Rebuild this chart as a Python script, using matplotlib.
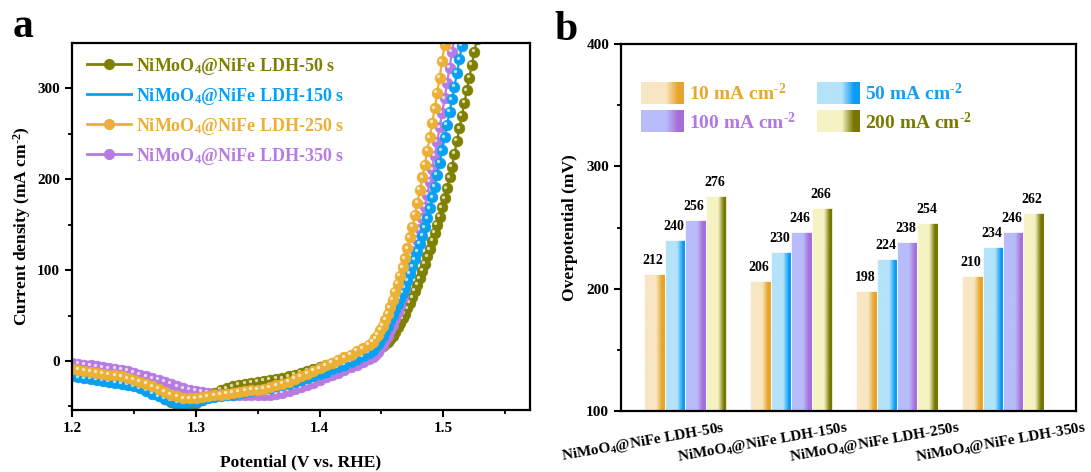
import numpy as np
import matplotlib
matplotlib.use('Agg')
import matplotlib.pyplot as plt
from matplotlib.lines import Line2D
from matplotlib.colors import to_rgb
import matplotlib.transforms as mtransforms

plt.rcParams['font.family'] = 'Liberation Serif'
plt.rcParams['font.weight'] = 'bold'
plt.rcParams['axes.labelweight'] = 'bold'
plt.rcParams['mathtext.fontset'] = 'custom'
plt.rcParams['mathtext.rm'] = 'Liberation Serif:bold'
plt.rcParams['mathtext.it'] = 'Liberation Serif:bold'
plt.rcParams['mathtext.bf'] = 'Liberation Serif:bold'

# ---------------- data: panel a (LSV curves) ----------------
# potentials: 1.200-1.440 V every 5 mV, then from 1.443 V every 2 mV
x_low = 1.200 + 0.005 * np.arange(49)
hi_start, hi_step = 1.443, 0.002

y50_low = [-13, -14, -15, -16, -17, -18, -19, -20, -21, -23,
           -25, -27, -30, -34, -38, -42, -45, -48, -49, -48,
           -46, -43, -39, -35, -32, -30, -28, -26, -25, -24,
           -23, -22, -21, -20, -19, -17, -15, -13, -11, -9,
           -7, -5, -3, -1, 1, 3, 5, 6, 8]
y50_high = [9, 11, 13, 15, 17, 19, 21, 24, 28, 32, 37, 42, 47, 52, 58, 64,
            70, 77, 84, 91, 99, 107, 115, 123, 132, 141, 150, 159, 169, 179,
            190, 202, 214, 228, 242, 256, 270, 284, 298, 312, 326, 340, 354, 368]

y150_low = [-17, -18, -19, -20, -21, -22, -23, -24, -25, -26,
            -28, -30, -33, -36, -39, -42, -44, -46, -46, -46,
            -45, -43, -41, -40, -39, -38, -37, -35, -34, -33,
            -32, -31, -30, -28, -27, -25, -23, -21, -19, -17,
            -14, -12, -9, -7, -4, -1, 2, 5, 9]
y150_high = [12, 15, 19, 23, 28, 33, 39, 45, 51, 57, 63, 69, 75, 81, 88, 96,
             104, 112, 120, 129, 138, 147, 157, 168, 180, 192, 205, 218, 232,
             246, 260, 274, 288, 302, 317, 332, 347, 362]

y250_low = [-9, -10, -11, -12, -13, -14, -15, -16, -17, -19,
            -21, -23, -25, -28, -31, -34, -37, -39, -41, -41,
            -41, -40, -39, -38, -37, -36, -35, -34, -33, -32,
            -32, -31, -29, -27, -25, -23, -20, -17, -14, -11,
            -8, -5, -2, 1, 4, 7, 11, 14, 18]
y250_high = [21, 25, 29, 34, 39, 45, 52, 59, 67, 76, 85, 94, 103, 113, 124,
             136, 148, 161, 174, 188, 202, 216, 231, 246, 262, 278, 295, 312,
             330, 348, 366]

y350_low = [-2, -3, -4, -5, -6, -7, -8, -9, -10, -11,
            -13, -15, -17, -19, -21, -23, -25, -28, -30, -32,
            -33, -34, -35, -36, -36, -37, -37, -37, -38, -38,
            -38, -37, -37, -36, -35, -33, -31, -29, -26, -24,
            -21, -18, -16, -13, -10, -7, -4, -1, 2]
y350_high = [4, 7, 10, 14, 18, 23, 28, 34, 40, 47, 54, 62, 70, 79, 89, 99,
             110, 121, 133, 145, 157, 170, 183, 197, 211, 226, 241, 257, 273,
             289, 306, 323, 340, 357]

lsv_labels = ['NiMoO$_{4}$@NiFe LDH-50 s', 'NiMoO$_{4}$@NiFe LDH-150 s',
              'NiMoO$_{4}$@NiFe LDH-250 s', 'NiMoO$_{4}$@NiFe LDH-350 s']
lsv_colors = ['#808000', '#0AA0F2', '#EBB034', '#B77BE2']

# ---------------- data: panel b (overpotentials) ----------------
samples = ['NiMoO$_{4}$@NiFe LDH-50s', 'NiMoO$_{4}$@NiFe LDH-150s',
           'NiMoO$_{4}$@NiFe LDH-250s', 'NiMoO$_{4}$@NiFe LDH-350s']
eta_10 = [212, 206, 198, 210]
eta_50 = [240, 230, 224, 234]
eta_100 = [256, 246, 238, 246]
eta_200 = [276, 266, 254, 262]
density_labels = [r'10 mA cm$^{\text{-}2}$', r'50 mA cm$^{\text{-}2}$',
                  r'100 mA cm$^{\text{-}2}$', r'200 mA cm$^{\text{-}2}$']
bar_light = ['#F8E6C4', '#B4E3FA', '#B8BDFA', '#F6F3C3']
bar_dark = ['#E6A52A', '#0A9CF5', '#A86ED9', '#767600']
text_cols = ['#E8A82E', '#12A0F2', '#B078E0', '#7A7A00']

# ---------------- figure ----------------
W, H = 1091, 472
fig = plt.figure(figsize=(W / 100, H / 100), dpi=100)
ax1 = fig.add_axes([72 / W, 1 - 410 / H, 458 / W, 367 / H])
ax2 = fig.add_axes([621 / W, 1 - 411 / H, 455 / W, 367 / H])

# ---- panel a ----
series = [(y50_low, y50_high), (y150_low, y150_high),
          (y250_low, y250_high), (y350_low, y350_high)]
zorders = [2, 6, 8, 4]
for (ylo, yhi), col, z in zip(series, lsv_colors, zorders):
    x = np.concatenate([x_low, hi_start + hi_step * np.arange(len(yhi))])
    y = np.concatenate([ylo, yhi])
    ax1.plot(x, y, '-', color=col, lw=1.6, marker='o', ms=7.8,
             mfc=col, mec=col, mew=0.4, zorder=z)
    hl = tuple(np.array(to_rgb(col)) * 0.3 + 0.7)
    off = mtransforms.offset_copy(ax1.transData, fig=fig, x=-1.2, y=1.2,
                                  units='points')
    ax1.plot(x, y, ls='none', marker='o', ms=2.4, mfc=hl, mec='none',
             transform=off, zorder=z + 1)

ax1.set_xlim(1.2, 1.57)
ax1.set_ylim(-54, 350)
ax1.set_xticks([1.2, 1.3, 1.4, 1.5])
ax1.set_xticks([1.25, 1.35, 1.45, 1.55], minor=True)
ax1.set_yticks([0, 100, 200, 300])
ax1.set_yticks([-50, 50, 150, 250], minor=True)
ax1.set_xlabel('Potential (V vs. RHE)', fontsize=12.5, labelpad=14)
ax1.set_ylabel(r'Current density (mA cm$^{\text{-}2}$)', fontsize=12.5, labelpad=3)

handles = []
for i, (lab, col) in enumerate(zip(lsv_labels, lsv_colors)):
    if i == 1:
        h = Line2D([], [], color=col, lw=2)
    else:
        h = Line2D([], [], color=col, lw=2, marker='o', ms=7, mfc=col, mec=col)
    handles.append(h)
leg = ax1.legend(handles, lsv_labels, loc='upper left',
                 bbox_to_anchor=(0.01, 0.995), frameon=False, fontsize=13,
                 handlelength=2.4, handletextpad=0.3, labelspacing=0.5,
                 borderaxespad=0.2)
for t, col in zip(leg.get_texts(), lsv_colors):
    t.set_color(col)

# ---- panel b ----
groups = np.arange(len(samples))
bw = 0.193
base = 100
offsets = [-1.5 * bw, -0.5 * bw, 0.5 * bw, 1.5 * bw]
all_vals = [eta_10, eta_50, eta_100, eta_200]


def gradient(light, dark, n=120):
    t = np.linspace(0, 1, n)
    w = np.clip((t - 0.58) / 0.28, 0, 1)
    l = np.array(to_rgb(light))
    d = np.array(to_rgb(dark))
    return (l[None, :] * (1 - w[:, None]) + d[None, :] * w[:, None])[None, :, :]


for vals, off, li, dk in zip(all_vals, offsets, bar_light, bar_dark):
    vals = np.asarray(vals)
    rects = ax2.bar(groups + off, vals - base, bottom=base, width=bw,
                    facecolor='none', edgecolor='white', lw=0.6, zorder=3)
    img = gradient(li, dk)
    for r, v in zip(rects, vals):
        x0, y0 = r.get_xy()
        im = ax2.imshow(img, extent=[x0, x0 + r.get_width(), y0, y0 + r.get_height()],
                        aspect='auto', interpolation='bilinear', zorder=2)
        im.set_clip_path(r)
        ax2.annotate(str(v), (x0 + r.get_width() / 2, v), xytext=(-1, 5),
                     textcoords='offset points', ha='center', va='bottom',
                     fontsize=10, fontweight='bold')

# legend (gradient swatches)
leg_pos = [(0.044, 0.837), (0.431, 0.837), (0.044, 0.760), (0.431, 0.760)]
for (lx, ly), li, dk, lab, tc in zip(leg_pos, bar_light, bar_dark,
                                     density_labels, text_cols):
    ax2.imshow(gradient(li, dk), extent=[lx, lx + 0.093, ly, ly + 0.058],
               transform=ax2.transAxes, aspect='auto', interpolation='bilinear',
               zorder=5)
    ax2.text(lx + 0.105, ly + 0.027, lab, transform=ax2.transAxes, color=tc,
             fontsize=14, fontweight='bold', va='center', ha='left')

ax2.set_xlim(-0.607, 3.69)
ax2.set_ylim(100, 400)
ax2.set_yticks([100, 200, 300, 400])
ax2.set_yticks([150, 250, 350], minor=True)
# category labels are set slightly left of their groups, as in the original
label_shift = np.array([-0.40, -0.27, -0.21, -0.02])
ax2.set_xticks(groups + label_shift)
ax2.set_xticklabels(samples, rotation=10, ha='center', va='top', fontsize=11)
ax2.set_ylabel('Overpotential (mV)', fontsize=12.5, labelpad=6)

for ax in (ax1, ax2):
    for s in ax.spines.values():
        s.set_linewidth(1.6)
        s.set_zorder(10)
    ax.tick_params(which='major', direction='out', length=5, width=1.5,
                   labelsize=11, top=False, right=False)
    ax.tick_params(which='minor', direction='out', length=3, width=1.3,
                   top=False, right=False)
ax2.tick_params(axis='x', which='both', length=0, labelsize=11, pad=6)

fig.text(13 / W, 1 - 37 / H, 'a', fontsize=30, fontweight='bold', va='baseline')
fig.text(554 / W, 1 - 40 / H, 'b', fontsize=30, fontweight='bold', va='baseline')

fig.savefig('out.png', dpi=100)
